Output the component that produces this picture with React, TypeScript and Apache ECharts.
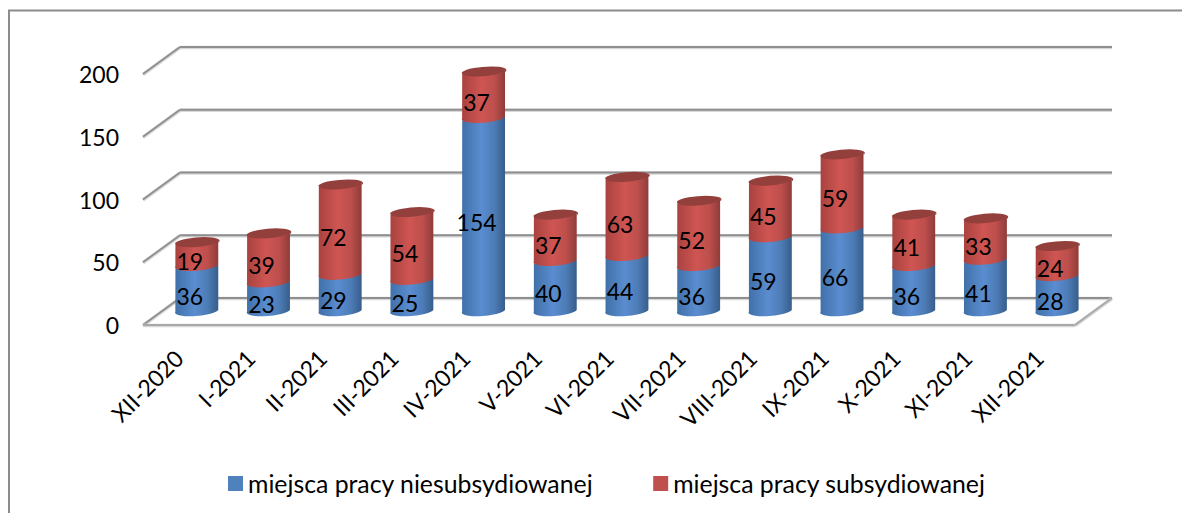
import React, { useEffect, useRef } from "react";
import * as echarts from "echarts";

const categories = ["XII-2020","I-2021","II-2021","III-2021","IV-2021","V-2021","VI-2021","VII-2021","VIII-2021","IX-2021","X-2021","XI-2021","XII-2021"];
const unsubsidized = [36,23,29,25,154,40,44,36,59,66,36,41,28];
const subsidized = [19,39,72,54,37,37,63,52,45,59,41,33,24];
const yTicks = [0,50,100,150,200];
const seriesNames = ["miejsca pracy niesubsydiowanej","miejsca pracy subsydiowanej"];

const FONT = "Lato, Carlito, Calibri, sans-serif";
const DEPTH_X = 37, DEPTH_Y = 27;
const BAR_DX = 18, BAR_DY = 13.2;
const RX = 21.5, RY = 5, TILT = -5;
const tiltRad = TILT * Math.PI / 180;
const ex = RX * Math.cos(tiltRad), ey = RX * Math.sin(tiltRad);

function hGrad(stops: [number, string][]) {
  return new echarts.graphic.LinearGradient(0, 0, 1, 0, stops.map(([offset, color]) => ({ offset, color })));
}

function cylinder(color: { body: [number, string][]; top: string; showTop: boolean }, labelValues: number[]) {
  return (params: any, api: any) => {
    const i = api.value(0), from = api.value(1), to = api.value(2);
    const [bx, by] = api.coord([i, from]);
    const [, ty] = api.coord([i, to]);
    const cx = bx + BAR_DX;
    const yb = by - BAR_DY, yt = ty - BAR_DY;
    const lx = cx - ex, rx = cx + ex;
    const a = `A${RX} ${RY} ${TILT}`;
    const body = `M${rx} ${yt + ey}L${rx} ${yb + ey}${a} 0 1 ${lx} ${yb - ey}L${lx} ${yt - ey}Z`;
    const face = `M${rx} ${yt + ey}${a} 0 1 ${lx} ${yt - ey}${a} 0 1 ${rx} ${yt + ey}Z`;
    const children: any[] = [
      { type: "path", shape: { pathData: body }, style: { fill: hGrad(color.body) } },
    ];
    if (color.showTop) children.push({ type: "path", shape: { pathData: face }, style: { fill: color.top } });
    const [, my] = api.coord([i, (from + to) / 2]);
    children.push({
      type: "text",
      style: {
        text: String(labelValues[params.dataIndex]),
        x: bx + 11, y: my - 6.7,
        align: "center", verticalAlign: "middle",
        font: `23px ${FONT}`, fill: "#000",
      },
    });
    return { type: "group", children };
  };
}

function wallLine(x1: number, y1: number, x2: number, y2: number, stroke = "#8f8f8f") {
  return [
    { type: "line", shape: { x1, y1: y1 + 0.5, x2, y2: y2 + 0.5 }, style: { stroke: "#d8d8d8", lineWidth: 3.5 } },
    { type: "line", shape: { x1, y1, x2, y2 }, style: { stroke, lineWidth: 1.8 } },
  ];
}

const renderWall = (_: any, api: any) => {
  const v = api.value(0);
  const [x0, y] = api.coord([0, v]);
  const left = x0 - api.size([1, 0])[0] / 2;
  const right = left + api.size([1, 0])[0] * categories.length;
  const children: any[] = [
    ...wallLine(left, y, left + DEPTH_X, y - DEPTH_Y),
    ...wallLine(left + DEPTH_X, y - DEPTH_Y, right + DEPTH_X, y - DEPTH_Y),
  ];
  if (v === 0) {
    children.push(...wallLine(left, y, right, y, "#a8a8a8"));
    children.push(...wallLine(right, y, right + DEPTH_X, y - DEPTH_Y, "#a8a8a8"));
  }
  return { type: "group", children };
};

export default function App() {
  const ref = useRef<HTMLDivElement>(null);
  useEffect(() => {
    const chart = echarts.init(ref.current!, null, { renderer: "svg" });
    const blueData = unsubsidized.map((v, i) => [i, 0, v]);
    const redData = subsidized.map((v, i) => [i, unsubsidized[i], unsubsidized[i] + v]);
    chart.setOption({
      animation: false,
      backgroundColor: "#fff",
      textStyle: { fontFamily: FONT },
      grid: { left: 143, right: 107, top: 74, bottom: 188, containLabel: false },
      xAxis: {
        type: "category", data: categories,
        axisLine: { show: false }, axisTick: { show: false }, splitLine: { show: false },
        axisLabel: { interval: 0, rotate: 45, margin: 29, fontSize: 23, color: "#000", fontFamily: FONT },
      },
      yAxis: {
        type: "value", min: 0, max: 200, interval: 50,
        axisLine: { show: false }, axisTick: { show: false }, splitLine: { show: false },
        axisLabel: { margin: 24, fontSize: 23, color: "#000", fontFamily: FONT, padding: [2, 0, 0, 0] },
      },
      legend: {
        data: seriesNames, left: 223, top: 466, itemWidth: 15, itemHeight: 15, itemGap: 60,
        icon: "rect",
        textStyle: { fontSize: 24.8, color: "#000", fontFamily: FONT },
      },
      graphic: [
        { type: "line", shape: { x1: 9, y1: 10, x2: 9, y2: 513 }, style: { stroke: "#8c8c8c", lineWidth: 2 } },
        { type: "line", shape: { x1: 8, y1: 10.5, x2: 1182, y2: 10.5 }, style: { stroke: "#8c8c8c", lineWidth: 2 } },
      ],
      series: [
        { type: "custom", name: "wall", data: yTicks.map((v) => [v]), encode: { y: 0 }, renderItem: renderWall, z: 1, silent: true },
        {
          type: "custom", name: seriesNames[0], data: blueData, encode: { x: 0, y: [1, 2] }, z: 2,
          itemStyle: { color: "#4f81bd" },
          renderItem: cylinder({ body: [[0, "#4070a8"], [0.45, "#5a8dd0"], [0.75, "#4d7cb6"], [1, "#375e8c"]], top: "#3f6897", showTop: false }, unsubsidized),
        },
        {
          type: "custom", name: seriesNames[1], data: redData, encode: { x: 0, y: [1, 2] }, z: 3,
          itemStyle: { color: "#c0504d" },
          renderItem: cylinder({ body: [[0, "#a8423f"], [0.45, "#cf5552"], [0.75, "#bd4f4c"], [1, "#8f3c3a"]], top: "#933f3c", showTop: true }, subsidized),
        },
      ],
    });
    return () => chart.dispose();
  }, []);
  return <div ref={ref} style={{ position: "fixed", left: 0, top: 0, width: 1182, height: 513 }} />;
}
